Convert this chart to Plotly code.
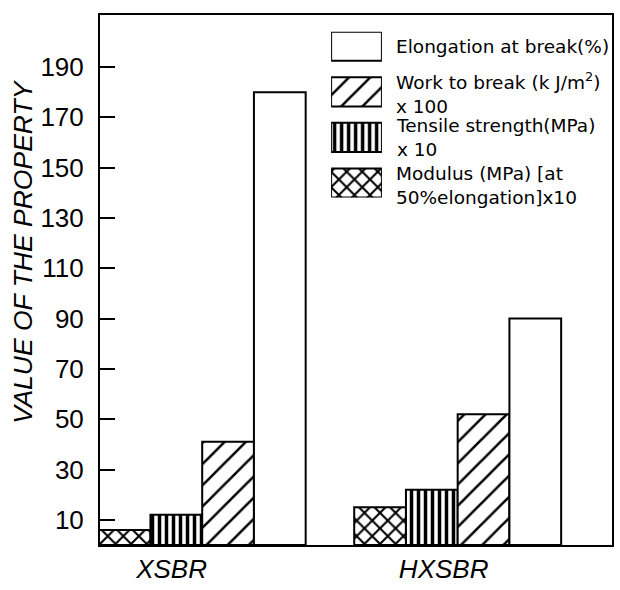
import plotly.graph_objects as go

# Properties of the two rubber compounds (scaled as noted in the key)
groups = ["XSBR", "HXSBR"]
modulus = [6, 15]          # Modulus (MPa) at 50% elongation x10
tensile = [12, 22]         # Tensile strength (MPa) x10
work = [41, 52]            # Work to break (kJ/m2) x100
elongation = [180, 90]     # Elongation at break (%)
y_ticks = [10, 30, 50, 70, 90, 110, 130, 150, 170, 190]

# Where the group names sit along the category axis
group_label_pos = [-0.12, 0.945]

FONT = "Liberation Sans"
LEG_FONT = "DejaVu Sans"
INK = "black"

series = [
    ("Modulus", modulus, dict(shape="x", size=11, solidity=0.34)),
    ("Tensile strength", tensile, dict(shape="|", size=7, solidity=0.5)),
    ("Work to break", work, dict(shape="/", size=15, solidity=0.17)),
    ("Elongation at break", elongation, dict(shape="", size=8, solidity=0.2)),
]

fig = go.Figure()
x_pos = list(range(len(groups)))
for name, vals, pat in series:
    fig.add_trace(go.Bar(
        x=x_pos, y=vals, name=name,
        marker=dict(color="white", line=dict(color=INK, width=2),
                    pattern=dict(fgcolor=INK, bgcolor="white", fgopacity=1, **pat)),
        hoverinfo="skip", showlegend=False,
    ))

# Key: one swatch per series on a small inset axis, top row first
key_rows = {"Elongation at break": 3, "Work to break": 2,
            "Tensile strength": 1, "Modulus": 0}
for name, vals, pat in series:
    fig.add_trace(go.Bar(
        x=[1], y=[key_rows[name]], base=0, orientation="h", width=0.64,
        marker=dict(color="white", line=dict(color=INK, width=2),
                    pattern=dict(fgcolor=INK, bgcolor="white", fgopacity=1, **pat)),
        xaxis="x2", yaxis="y2", hoverinfo="skip", showlegend=False,
    ))

# Key captions in paper coordinates
key_captions = [
    ("Elongation at break(%)", 0.941),
    ("Work to break (k J/m<sup>2</sup>)<br>x 100", 0.853),
    ("Tensile strength(MPa)<br>x 10", 0.768),
    ("Modulus (MPa) [at<br>50%elongation]x10", 0.678),
]
annotations = []
for caption, yp in key_captions:
    annotations.append(dict(
        text=caption, xref="paper", yref="paper", x=0.574, y=yp,
        xanchor="left", yanchor="middle", align="left", showarrow=False,
        font=dict(family=LEG_FONT, size=18.5, color=INK),
    ))

annotations.append(dict(
    text="VALUE OF THE PROPERTY", xref="paper", yref="paper",
    x=-0.152, y=0.5535, xanchor="center", yanchor="middle",
    textangle=-90, showarrow=False,
    font=dict(family=FONT, size=26.5, color=INK, style="italic"),
))

fig.update_layout(
    width=620, height=590,
    margin=dict(l=100, r=6, t=15, b=33),
    paper_bgcolor="white", plot_bgcolor="white",
    barmode="group", bargap=0.19, bargroupgap=0,
    showlegend=False, hovermode=False,
    annotations=annotations,
    xaxis=dict(
        range=[-0.40, 1.604], tickvals=group_label_pos, ticktext=groups,
        ticks="", showgrid=False, zeroline=False,
        showline=True, linecolor=INK, linewidth=2, mirror=True,
        tickfont=dict(family=FONT, size=26, color=INK, style="italic"),
    ),
    yaxis=dict(
        range=[0, 210.7], tickvals=y_ticks,
        ticks="inside", ticklen=15, tickwidth=2, tickcolor=INK,
        ticklabelstandoff=9,
        showgrid=False, zeroline=False,
        showline=True, linecolor=INK, linewidth=2, mirror=True,
        tickfont=dict(family=FONT, size=26, color=INK),
    ),
    xaxis2=dict(domain=[0.4514, 0.5506], range=[0, 1], visible=False,
                anchor="y2", fixedrange=True),
    yaxis2=dict(domain=[0.6555, 0.9686], range=[-0.32, 3.32], visible=False,
                anchor="x2", fixedrange=True),
)

fig.write_html("out.html")
